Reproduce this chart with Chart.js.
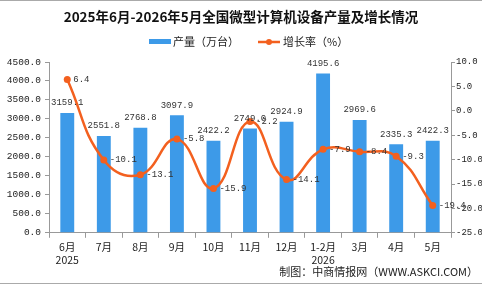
<!DOCTYPE html>
<html><head><meta charset="utf-8">
<script src="https://cdn.jsdelivr.net/npm/chart.js@4/dist/chart.umd.min.js"></script>
<style>html,body{margin:0;padding:0;background:#fff}#wrap{width:482px;height:284px}</style>
</head><body><div id="wrap"><canvas id="c" width="482" height="284"></canvas></div>
<script>
const categories = [['6月','2025'],'7月','8月','9月','10月','11月','12月',['1-2月','2026'],'3月','4月','5月'];
const production = [3159.1, 2551.8, 2768.8, 3097.9, 2422.2, 2749.0, 2924.9, 4195.6, 2969.6, 2335.3, 2422.3];
const growth = [6.4, -10.1, -13.1, -5.8, -15.9, -2.2, -14.1, -7.9, -8.4, -9.3, -19.4];
const titleText = '2025年6月-2026年5月全国微型计算机设备产量及增长情况';
const barName = '产量（万台）';
const lineName = '增长率（%）';
const sourceText = '制图：中商情报网（WWW.ASKCI.COM）';

const BAR = '#3d9ae8', LINE = '#f3601f';
const CJK = '"Noto Sans CJK SC", "DejaVu Sans", sans-serif';
const NUM = '"Liberation Mono", monospace';

const deco = {
  id: 'deco',
  afterDatasetsDraw(chart) {
    const ctx = chart.ctx;
    ctx.save();
    ctx.strokeStyle = '#aaaaaa'; ctx.lineWidth = 1;
    ctx.beginPath(); ctx.moveTo(0, 0.5); ctx.lineTo(482, 0.5); ctx.moveTo(0, 283.5); ctx.lineTo(482, 283.5); ctx.stroke();
    ctx.fillStyle = '#111'; ctx.textAlign = 'center'; ctx.textBaseline = 'middle';
    ctx.font = 'bold 13.5px ' + CJK;
    ctx.fillText(titleText, 241, 17);
    ctx.fillStyle = BAR; ctx.fillRect(149, 39, 22, 5);
    ctx.font = '11px ' + CJK; ctx.fillStyle = '#222'; ctx.textAlign = 'left';
    ctx.fillText(barName, 173, 42);
    ctx.strokeStyle = LINE; ctx.lineWidth = 2.5;
    ctx.beginPath(); ctx.moveTo(258, 42); ctx.lineTo(280, 42); ctx.stroke();
    ctx.fillStyle = LINE; ctx.beginPath(); ctx.arc(269, 42, 3, 0, Math.PI * 2); ctx.fill();
    ctx.fillStyle = '#222'; ctx.fillText(lineName, 283, 42);
    ctx.textAlign = 'right'; ctx.font = '11px ' + CJK;
    ctx.fillText(sourceText, 478, 272);
    ctx.font = '9px ' + NUM; ctx.fillStyle = '#333';
    const bm = chart.getDatasetMeta(0), lm = chart.getDatasetMeta(1);
    ctx.textAlign = 'center';
    bm.data.forEach((el, i) => ctx.fillText(production[i].toFixed(1), el.x, el.y - 10));
    ctx.textAlign = 'left';
    lm.data.forEach((el, i) => ctx.fillText(growth[i].toFixed(1), el.x + 6, el.y));
    ctx.restore();
  }
};

new Chart(document.getElementById('c'), {
  data: {
    labels: categories,
    datasets: [
      { type: 'bar', label: barName, data: production, backgroundColor: BAR, yAxisID: 'y', barPercentage: 0.38, categoryPercentage: 1, order: 2 },
      { type: 'line', label: lineName, data: growth, borderColor: LINE, backgroundColor: LINE, borderWidth: 2.5, pointRadius: 3.5, pointBackgroundColor: LINE, pointBorderWidth: 0, tension: 0.45, yAxisID: 'y1', order: 1 }
    ]
  },
  options: {
    responsive: false, animation: false,
    layout: { padding: { top: 62, bottom: 15, left: 0, right: 0 } },
    plugins: { legend: { display: false }, title: { display: false }, tooltip: { enabled: false } },
    scales: {
      x: {
        grid: { display: true, offset: true, drawOnChartArea: false, drawTicks: true, tickLength: 5, color: '#999' },
        border: { color: '#999' },
        ticks: { color: '#222', font: { size: 10.5, family: CJK }, padding: 3, maxRotation: 0, autoSkip: false }
      },
      y: {
        position: 'left', min: 0, max: 4500,
        grid: { drawOnChartArea: false, drawTicks: true, tickLength: 4, color: '#999' },
        border: { color: '#999' },
        ticks: { stepSize: 500, color: '#222', font: { size: 9.5, family: NUM }, padding: 4, callback: v => v.toFixed(1) },
        afterFit: s => { s.width = 49; }
      },
      y1: {
        position: 'right', min: -25, max: 10,
        grid: { drawOnChartArea: false, drawTicks: true, tickLength: 4, color: '#999' },
        border: { color: '#999' },
        ticks: { stepSize: 5, color: '#222', font: { size: 9, family: NUM }, padding: 1, callback: v => v.toFixed(1) },
        afterFit: s => { s.width = 31; }
      }
    }
  },
  plugins: [deco]
});
</script></body></html>
